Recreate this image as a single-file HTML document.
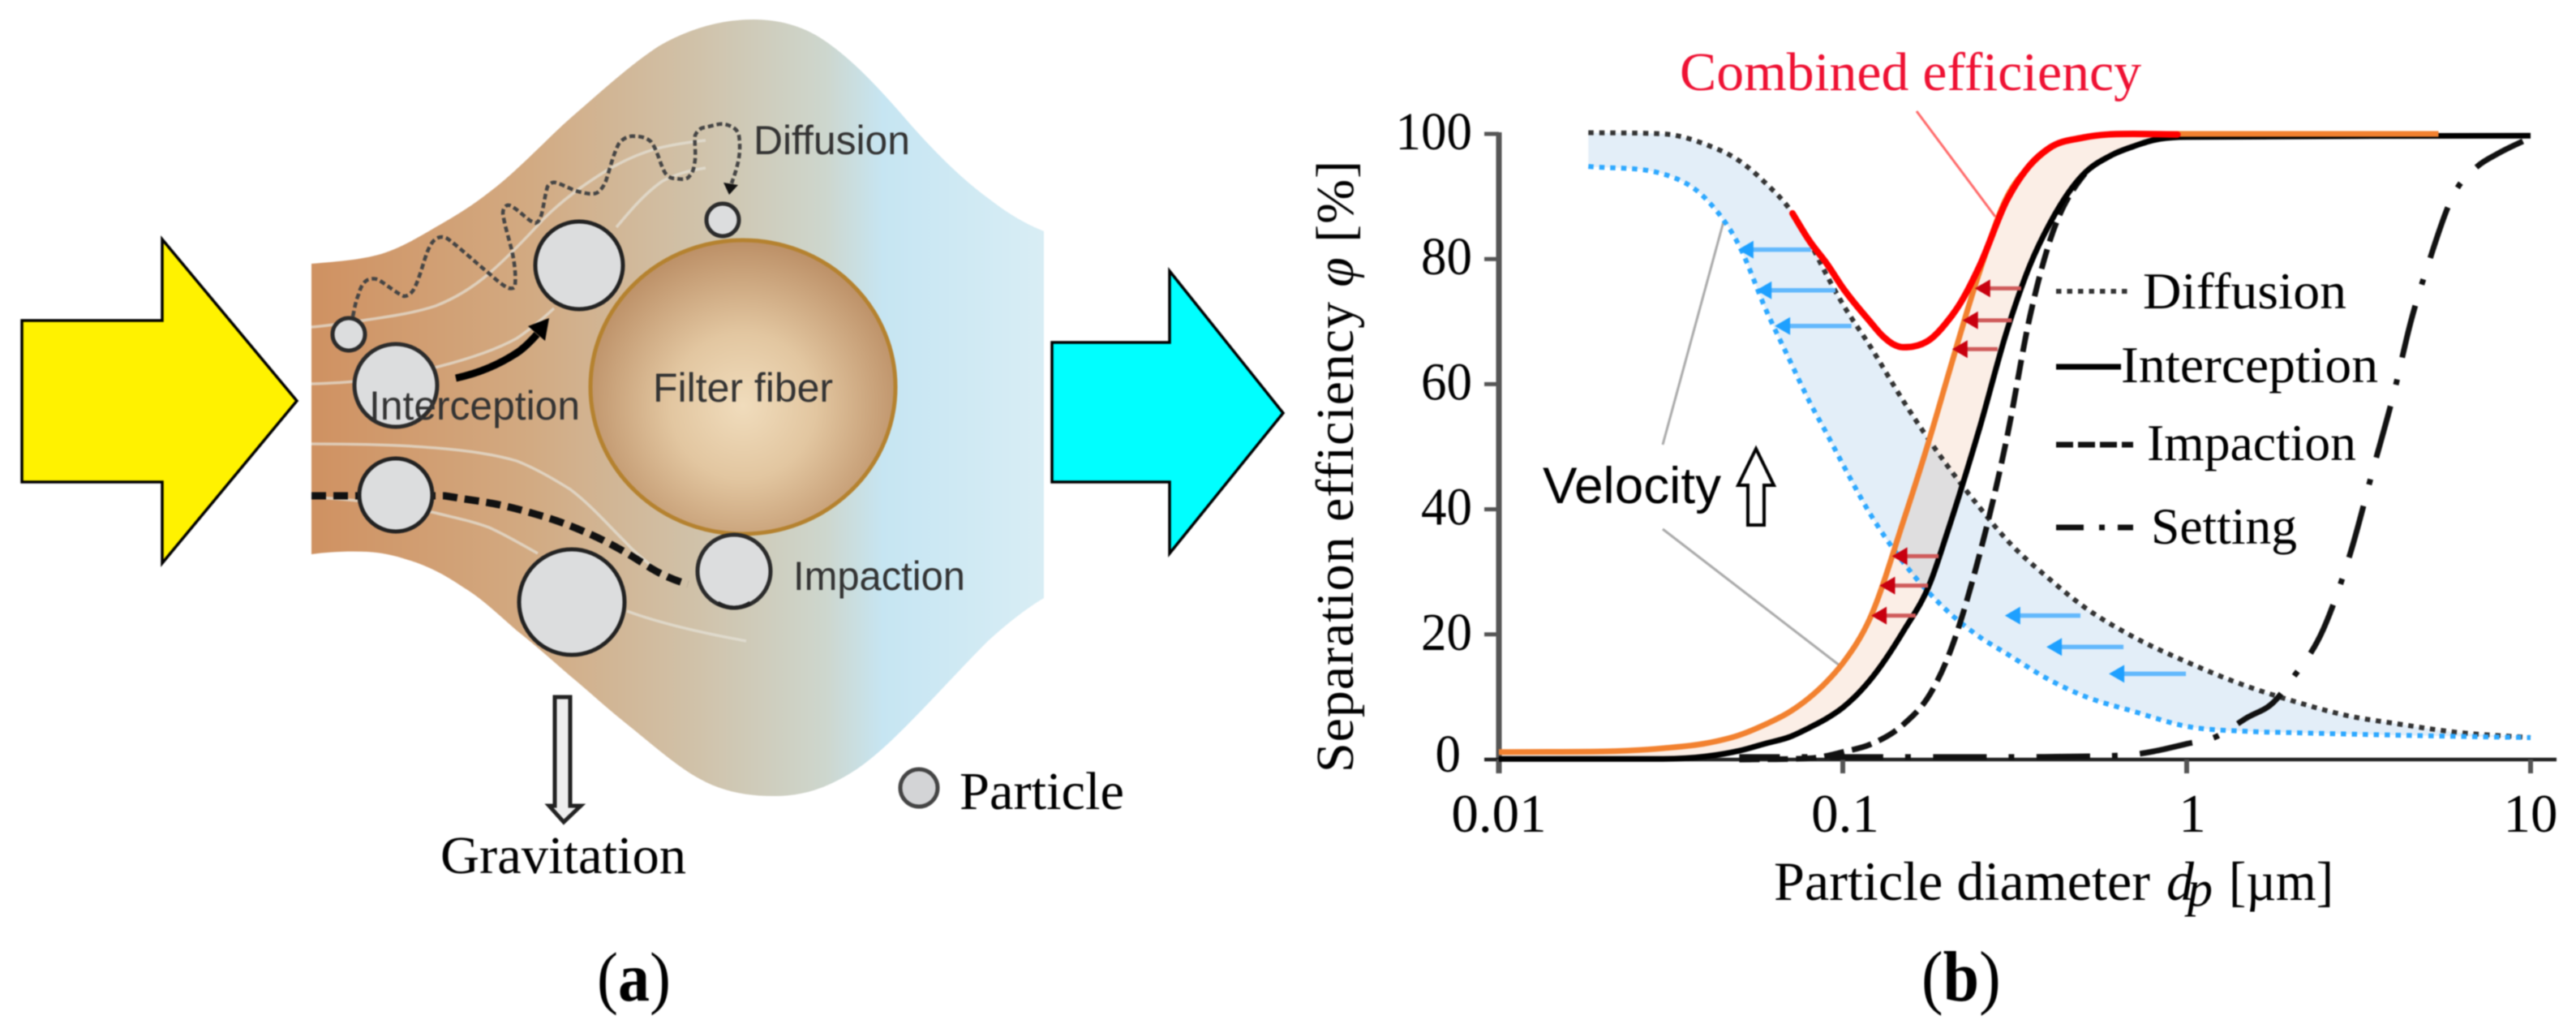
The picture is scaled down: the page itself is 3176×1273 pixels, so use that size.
<!DOCTYPE html>
<html lang="en">
<head>
<meta charset="utf-8">
<title>Particle filtration mechanisms and separation efficiency</title>
<style>
  html, body { margin: 0; padding: 0; background: #fff; }
  body { width: 3176px; height: 1273px; overflow: hidden; }
  svg { display: block; filter: blur(0.7px); }
  .serif { font-family: "Liberation Serif", serif; }
  .sans { font-family: "Liberation Sans", sans-serif; }
</style>
</head>
<body>
<svg id="figure" xmlns="http://www.w3.org/2000/svg" width="3176" height="1273" viewBox="0 0 3176 1273">
  <defs>
    <linearGradient id="flowGrad" gradientUnits="userSpaceOnUse" x1="384" y1="0" x2="1288" y2="0">
      <stop offset="0" stop-color="#cf9161"/>
      <stop offset="0.3" stop-color="#d2aa82"/>
      <stop offset="0.52" stop-color="#d0c1a8"/>
      <stop offset="0.7" stop-color="#cdd6cd"/>
      <stop offset="0.78" stop-color="#c6e5f2"/>
      <stop offset="1" stop-color="#d8edf4"/>
    </linearGradient>
    <radialGradient id="fiberGrad" gradientUnits="userSpaceOnUse" cx="916" cy="500" r="200">
      <stop offset="0" stop-color="#f0dcbc"/>
      <stop offset="0.45" stop-color="#e2c6a0"/>
      <stop offset="1" stop-color="#bd9168"/>
    </radialGradient>
  </defs>

  <g id="panel-a">
    <path fill="url(#flowGrad)" d="M384 325 C420 322 445 320 470 313 C495 305 515 293 537 280 C560 267 580 255 603 237 C628 218 648 198 670 177 C690 157 705 144 720 131 C750 105 780 78 812 57 C850 35 890 24 929 24 C960 24 990 32 1015 49 C1050 72 1085 110 1117 147 C1150 185 1185 220 1218 244 C1245 265 1265 276 1287 285 L1287 737 C1262 752 1240 770 1218 790 C1185 823 1150 862 1117 895 C1090 922 1065 945 1036 960 C1010 974 985 981 954 981 C920 981 890 975 863 960 C835 945 805 918 770 890 C745 870 725 851 703 833 C680 813 660 795 637 777 C615 758 595 738 570 723 C548 708 527 697 503 690 C485 684 470 681 453 680 C430 679 405 680 384 683 Z"/>
    <g fill="none" stroke="#e6e3d9" stroke-width="3.5" opacity="0.7">
      <path d="M384 403 C400 402 425 398 447 395 C480 390 510 386 537 377 C560 368 582 355 603 337 C628 315 650 292 670 270 C690 250 712 233 737 217 C760 202 785 190 810 183 C830 178 850 175 870 173"/>
      <path d="M384 473 C420 472 470 470 540 452 C575 443 610 432 637 417 C655 405 670 392 683 380 M760 280 C775 262 795 238 817 223 C835 214 850 210 870 207"/>
      <path d="M384 547 C430 547 490 548 537 552 C575 555 610 560 637 568 C660 577 682 590 703 603 C727 621 748 645 770 667 C782 680 792 688 803 697"/>
      <path d="M384 613 C420 614 480 620 537 632 C560 638 582 642 603 650 C625 660 645 672 663 682 M773 753 C805 765 838 773 870 780 C888 784 905 787 920 790"/>
    </g>
    <path fill="none" stroke="#444" stroke-width="4.5" stroke-dasharray="7 4" d="M435 390 C437 380 439 370 442 363 C445 352 449 347 453 345 C458 343 463 343 467 345 C478 352 490 362 498 365 C504 365 509 360 512 353 C518 340 522 323 527 310 C531 300 535 295 540 293 C545 291 549 292 553 295 C570 308 587 324 603 337 C612 345 620 352 627 355 C632 356 635 355 635 352 C636 340 635 328 632 313 C628 295 622 278 620 263 C620 256 624 252 628 253 C640 258 650 272 660 275 C664 274 666 270 668 263 C671 250 672 240 675 230 C678 226 681 224 685 225 C696 228 706 235 717 237 C725 239 733 240 737 237 C741 234 744 230 747 223 C752 208 756 190 763 177 C768 170 776 167 783 168 C791 168 798 170 803 175 C811 186 814 203 820 213 C824 219 829 220 833 220 C840 221 847 222 850 217 C855 212 856 205 857 197 C858 187 856 176 857 167 C860 160 865 157 870 157 C878 155 886 152 893 153 C903 155 910 160 911 167 C913 180 912 193 909 204 C907 212 904 220 902 226"/>
    <polygon fill="#111" points="892,225 910,228 899,240"/>
    <path fill="none" stroke="#111" stroke-width="9" stroke-dasharray="18 9" d="M384 611 L548 611 C555 612 561 613 567 614 C585 617 603 619 620 623 C638 627 655 632 672 637 C688 642 704 648 720 655 C737 662 754 671 770 680 C786 689 802 701 817 708 C827 713 838 717 848 720"/>
    <circle cx="430" cy="412" r="20" fill="#dcddde" stroke="#2b2b2b" stroke-width="5"/>
    <circle cx="488" cy="475" r="51" fill="#dcddde" stroke="#2b2b2b" stroke-width="5"/>
    <circle cx="714" cy="327" r="54" fill="#dcddde" stroke="#222" stroke-width="5"/>
    <circle cx="488" cy="610" r="45" fill="#dcddde" stroke="#222" stroke-width="5"/>
    <circle cx="705" cy="742" r="65" fill="#dcddde" stroke="#222" stroke-width="5"/>
    <ellipse cx="916" cy="477" rx="188" ry="181" fill="url(#fiberGrad)" stroke="#b5822f" stroke-width="5"/>
    <circle cx="891" cy="271" r="20" fill="#dcddde" stroke="#2b2b2b" stroke-width="5"/>
    <circle cx="905" cy="704" r="45" fill="#dcddde" stroke="#2b2b2b" stroke-width="5"/>
    <path d="M885 743 Q905 755 925 743" fill="none" stroke="#222" stroke-width="5"/>
    <path fill="none" stroke="#000" stroke-width="9" d="M562 466 C590 460 615 450 640 433 C648 427 655 420 662 412"/>
    <polygon fill="#000" points="677,392 672,420 651,402"/>
    <text class="sans" x="929" y="190" font-size="50" fill="#333" textLength="193" lengthAdjust="spacingAndGlyphs">Diffusion</text>
    <text class="sans" x="805" y="495" font-size="50" fill="#333" textLength="222" lengthAdjust="spacingAndGlyphs">Filter fiber</text>
    <text class="sans" x="455" y="517" font-size="50" fill="#333" textLength="260" lengthAdjust="spacingAndGlyphs">Interception</text>
    <text class="sans" x="978" y="727" font-size="50" fill="#333" textLength="212" lengthAdjust="spacingAndGlyphs">Impaction</text>
    <polygon points="27,395 200,395 200,295 366,494 200,694 200,594 27,594" fill="#fff200" stroke="#000" stroke-width="3.5"/>
    <polygon points="1297,422 1442,422 1442,334 1582,509 1442,682 1442,594 1297,594" fill="#00ffff" stroke="#000" stroke-width="3.5"/>
    <polygon points="684,859 703,859 703,993 716,993 695,1013 677,993 684,993" fill="#eeeeee" stroke="#222" stroke-width="5"/>
    <text class="serif" x="543" y="1076" font-size="66" fill="#000" textLength="303" lengthAdjust="spacingAndGlyphs">Gravitation</text>
    <circle cx="1133" cy="971" r="23" fill="#d3d4d6" stroke="#444" stroke-width="5"/>
    <text class="serif" x="1183" y="997" font-size="66" fill="#000" textLength="203" lengthAdjust="spacingAndGlyphs">Particle</text>
    <text class="serif" transform="translate(736 1233) scale(1 1.1)" font-size="78" fill="#000">(<tspan font-weight="bold">a</tspan>)</text>
  </g>

  <g id="panel-b">
    <g id="bands"></g>
    <g id="leaders">
      <line x1="2125" y1="273" x2="2050" y2="548" stroke="#aaa" stroke-width="3"/>
      <line x1="2050" y1="652" x2="2268" y2="820" stroke="#aaa" stroke-width="3"/>
      <line x1="2363" y1="137" x2="2460" y2="267" stroke="#ff6a6a" stroke-width="3"/>
    </g>
    <g id="axes"></g>
    <g id="series"></g>
    <g id="arrows"></g>

    <text class="serif" x="2071" y="111" font-size="67" fill="#ee1133" textLength="569" lengthAdjust="spacingAndGlyphs">Combined efficiency</text>
    <text class="sans" x="1902" y="620" font-size="63" fill="#000" textLength="220" lengthAdjust="spacingAndGlyphs">Velocity</text>
    <polygon points="2165,553 2187,598 2175,598 2175,647 2155,647 2155,598 2143,598" fill="#fff" stroke="#000" stroke-width="4"/>

    <g>
      <line x1="2535" y1="359" x2="2627" y2="359" stroke="#333" stroke-width="6" stroke-dasharray="6.5 7"/>
      <text class="serif" x="2642" y="380" font-size="64" textLength="251" lengthAdjust="spacingAndGlyphs">Diffusion</text>
      <line x1="2535" y1="452" x2="2615" y2="452" stroke="#000" stroke-width="7"/>
      <text class="serif" x="2615" y="471" font-size="64" textLength="317" lengthAdjust="spacingAndGlyphs">Interception</text>
      <line x1="2535" y1="548" x2="2630" y2="548" stroke="#111" stroke-width="7" stroke-dasharray="21 6"/>
      <text class="serif" x="2647" y="567" font-size="64" textLength="258" lengthAdjust="spacingAndGlyphs">Impaction</text>
      <line x1="2535" y1="650" x2="2569" y2="650" stroke="#111" stroke-width="7"/>
      <line x1="2588" y1="650" x2="2595" y2="650" stroke="#111" stroke-width="7"/>
      <line x1="2611" y1="650" x2="2630" y2="650" stroke="#111" stroke-width="7"/>
      <text class="serif" x="2652" y="670" font-size="64" textLength="180" lengthAdjust="spacingAndGlyphs">Setting</text>
    </g>

    <text class="serif" x="2187" y="1109" font-size="68" textLength="464" lengthAdjust="spacingAndGlyphs">Particle diameter</text>
    <text class="serif" x="2671" y="1109" font-size="68" font-style="italic">d</text>
    <text class="serif" x="2697" y="1116" font-size="62" font-style="italic">p</text>
    <text class="serif" x="2748" y="1109" font-size="68" textLength="129" lengthAdjust="spacingAndGlyphs">[µm]</text>
    <text class="serif" transform="translate(1668 952) rotate(-90)" x="0" y="0" font-size="66" textLength="754" lengthAdjust="spacing">Separation efficiency <tspan font-style="italic">φ</tspan> [%]</text>
    <text class="serif" transform="translate(2369 1233) scale(1 1.1)" font-size="80" fill="#000">(<tspan font-weight="bold">b</tspan>)</text>
  </g>
</svg>

<script>
// ---- axis tick labels ----
const xTicks = [0.01, 0.1, 1, 10];
const xTickLabels = ["0.01", "0.1", "1", "10"];
const yTicks = [0, 20, 40, 60, 80, 100];
const yTickLabels = ["0", "20", "40", "60", "80", "100"];

// ---- series: particle diameter (µm) and separation efficiency (%) ----
const diffusionD = [0.0182, 0.03, 0.04, 0.05, 0.06, 0.07, 0.08, 0.09, 0.1, 0.12, 0.15, 0.2, 0.25, 0.3, 0.4, 0.5, 0.7, 1, 1.5, 2, 3, 4, 6, 10];
const diffusionPhi = [100.2, 100, 98.3, 95.7, 92, 88, 82.8, 77.3, 72.8, 66.1, 57.3, 47.2, 40.3, 35.1, 28.8, 24.5, 19.6, 15.6, 11.7, 9.5, 6.9, 5.8, 4.4, 3.5];

const diffusionFastD = [0.0182, 0.03, 0.04, 0.05, 0.06, 0.07, 0.08, 0.09, 0.1, 0.12, 0.15, 0.2, 0.25, 0.3, 0.4, 0.5, 0.7, 1, 1.5, 2, 4, 10];
const diffusionFastPhi = [94.8, 93.6, 89.6, 82.1, 71.7, 63.9, 57.2, 52, 47.2, 39.3, 31.5, 23.9, 19.6, 16.9, 12.7, 10.2, 7.7, 5.3, 4.5, 4.3, 3.9, 3.5];

const interceptionD = [0.01, 0.03, 0.04, 0.05, 0.06, 0.07, 0.08, 0.09, 0.1, 0.12, 0.15, 0.18, 0.2, 0.25, 0.3, 0.35, 0.4, 0.5, 0.6, 0.7, 0.8, 1, 10];
const interceptionPhi = [0.1, 0.1, 0.5, 1.4, 2.6, 3.6, 5.1, 6.6, 8.3, 12.7, 20.5, 28.4, 35.8, 53, 68.5, 79, 85.7, 93.5, 96.5, 98, 99, 99.5, 99.7];

const interceptionFastD = [0.01, 0.02, 0.03, 0.04, 0.05, 0.06, 0.07, 0.08, 0.09, 0.1, 0.12, 0.15, 0.18, 0.2, 0.25, 0.3, 0.35, 0.4, 0.5, 0.7, 1, 5.4];
const interceptionFastPhi = [1.2, 1.3, 1.8, 2.6, 3.9, 5.7, 7.6, 9.9, 12.5, 15.4, 22.6, 38.1, 51.8, 60.4, 78, 89.9, 94.9, 97.7, 99.4, 100, 100, 100];

const impactionD = [0.05, 0.08, 0.09, 0.1, 0.12, 0.15, 0.18, 0.2, 0.25, 0.3, 0.35, 0.4, 0.5, 0.6, 0.7, 0.8, 1, 3];
const impactionPhi = [0, 0.2, 0.6, 1.2, 2.4, 5.6, 10.6, 15.7, 32.8, 51.4, 70.8, 82.9, 93.3, 96.5, 98, 99, 99.6, 99.9];

const settingD = [0.05, 0.3, 0.5, 0.6, 0.7, 0.8, 1, 1.2, 1.5, 1.8, 2, 2.5, 3, 3.5, 4, 4.5, 5, 6, 7, 8, 10];
const settingPhi = [0.4, 0.4, 0.5, 0.6, 0.8, 1.3, 2.5, 3.5, 6.7, 9.3, 12.5, 20.9, 33.2, 46.8, 58.5, 70.3, 78.6, 90.5, 94.8, 96.8, 99.4];

const combinedD = [0.0714, 0.08, 0.09, 0.1, 0.12, 0.13, 0.14, 0.15, 0.16, 0.18, 0.2, 0.22, 0.25, 0.3, 0.35, 0.4, 0.5, 0.7, 0.94];
const combinedPhi = [87.3, 82.9, 79.2, 75.4, 70, 67.8, 66.4, 65.9, 66, 67.2, 69.8, 73, 78.9, 89.4, 95, 97.8, 99.4, 100, 99.9];

// ---- shift arrows: efficiency level, tail diameter, head diameter ----
const blueArrowPhi = [81.5, 75, 69.3, 23, 18, 13.7];
const blueArrowTail = [0.0809, 0.0952, 0.106, 0.491, 0.655, 0.995];
const blueArrowHead = [0.0496, 0.056, 0.0634, 0.296, 0.391, 0.594];
const redArrowPhi = [75.3, 70.2, 65.6, 32.5, 27.8, 23];
const redArrowTail = [0.33, 0.31, 0.282, 0.19, 0.177, 0.163];
const redArrowHead = [0.242, 0.223, 0.208, 0.139, 0.128, 0.121];

// ---- axis functions ----
const X0 = 1848, DECADE = 424, Y0 = 936, PX_PER_PCT = 7.71;
function xScale(d) { return X0 + (Math.log10(d) + 2) * DECADE; }
function yScale(p) { return Y0 - p * PX_PER_PCT; }

const NS = "http://www.w3.org/2000/svg";
function make(tag, attrs, parent) {
  const el = document.createElementNS(NS, tag);
  for (const k in attrs) el.setAttribute(k, attrs[k]);
  parent.appendChild(el);
  return el;
}
function toPoints(ds, ps) { return ds.map((d, i) => [xScale(d), yScale(ps[i])]); }
function curve(pts) {
  const n = pts.length;
  const sl = [], hs = [];
  for (let i = 0; i < n - 1; i++) {
    hs.push(pts[i + 1][0] - pts[i][0]);
    sl.push((pts[i + 1][1] - pts[i][1]) / hs[i]);
  }
  const m = [sl[0]];
  for (let i = 1; i < n - 1; i++) {
    const a = sl[i - 1], b = sl[i];
    if (a * b <= 0) { m.push(0); continue; }
    const mid = (a * hs[i] + b * hs[i - 1]) / (hs[i - 1] + hs[i]);
    m.push(Math.sign(a) * Math.min(Math.abs(mid), 3 * Math.abs(a), 3 * Math.abs(b)));
  }
  m.push(sl[n - 2]);
  let s = "M" + pts[0][0].toFixed(1) + " " + pts[0][1].toFixed(1);
  for (let i = 0; i < n - 1; i++) {
    const h = hs[i];
    s += " C" + (pts[i][0] + h / 3).toFixed(1) + " " + (pts[i][1] + m[i] * h / 3).toFixed(1) +
         " " + (pts[i + 1][0] - h / 3).toFixed(1) + " " + (pts[i + 1][1] - m[i + 1] * h / 3).toFixed(1) +
         " " + pts[i + 1][0].toFixed(1) + " " + pts[i + 1][1].toFixed(1);
  }
  return s;
}
function band(upper, lower) {
  return curve(upper) + " L" + curve(lower.slice().reverse()).slice(1) + " Z";
}

const bands = document.getElementById("bands");
const axes = document.getElementById("axes");
const series = document.getElementById("series");
const arrows = document.getElementById("arrows");

// ---- filled bands ----
const blueBand = make("path", { d: band(toPoints(diffusionD, diffusionPhi), toPoints(diffusionFastD, diffusionFastPhi)), fill: "#e3eef8" }, bands);


const peachBand = make("path", { d: band(toPoints(interceptionFastD, interceptionFastPhi), toPoints(interceptionD, interceptionPhi)), fill: "#fbeee6", style: "mix-blend-mode:multiply" }, bands);



// ---- axes ----
const yAxisLine = make("line", { x1: X0, x2: X0, y1: yScale(100) - 2, y2: Y0 + 17, stroke: "#555", "stroke-width": 7 }, axes);


const xAxisLine = make("line", { x1: 1830, x2: 3152, y1: Y0, y2: Y0, stroke: "#222", "stroke-width": 4.5 }, axes);



yTicks.forEach((v, i) => {
  const y = yScale(v);
  if (v !== 0) {
    const t = make("line", { x1: 1830, x2: X0, y1: y, y2: y, stroke: "#555", "stroke-width": 5 }, axes);
    
    
  }
  const lab = make("text", { x: v === 0 ? 1801 : 1815, y: v === 0 ? y + 15 : y + 19, "text-anchor": "end", "font-size": 66, class: "serif", textLength: yTickLabels[i].length * 31.5, lengthAdjust: "spacingAndGlyphs" }, axes);
  
  
  lab.textContent = yTickLabels[i];
});
const xLabelNudge = [0, 3, 7, 0];
xTicks.forEach((v, i) => {
  const x = xScale(v);
  const t = make("line", { x1: x, x2: x, y1: Y0, y2: Y0 + 17, stroke: "#555", "stroke-width": 6 }, axes);
  
  
  const lab = make("text", { x: x + xLabelNudge[i], y: 1025, "text-anchor": "middle", "font-size": 67, class: "serif" }, axes);
  
  
  lab.textContent = xTickLabels[i];
});

// ---- curves ----
const diffusionLine = make("path", { d: curve(toPoints(diffusionD, diffusionPhi)), fill: "none", stroke: "#333", "stroke-width": 6, "stroke-dasharray": "6.5 7" }, series);


const diffusionFastLine = make("path", { d: curve(toPoints(diffusionFastD, diffusionFastPhi)), fill: "none", stroke: "#2da8ff", "stroke-width": 6, "stroke-dasharray": "6.5 7" }, series);


const settingLine = make("path", { d: curve(toPoints(settingD, settingPhi)), fill: "none", stroke: "#111", "stroke-width": 7, "stroke-dasharray": "66 27 7 27.5", "stroke-dashoffset": 16 }, series);


const impactionLine = make("path", { d: curve(toPoints(impactionD, impactionPhi)), fill: "none", stroke: "#111", "stroke-width": 7, "stroke-dasharray": "25 10" }, series);


const interceptionLine = make("path", { d: curve(toPoints(interceptionD, interceptionPhi)), fill: "none", stroke: "#000", "stroke-width": 7 }, series);


const interceptionFastLine = make("path", { d: curve(toPoints(interceptionFastD, interceptionFastPhi)), fill: "none", stroke: "#f2812f", "stroke-width": 7 }, series);



// ---- shift arrows ----
blueArrowPhi.forEach((p, i) => {
  const y = yScale(p), xt = xScale(blueArrowTail[i]), xh = xScale(blueArrowHead[i]);
  const l = make("line", { x1: xt, x2: xh + 10, y1: y, y2: y, stroke: "#62b8fc", "stroke-width": 5.5 }, arrows);
  
  
  const h = make("polygon", { points: xh + "," + y + " " + (xh + 19) + "," + (y - 11) + " " + (xh + 19) + "," + (y + 11), fill: "#1ea0ff" }, arrows);
  
  
});

// combined curve is drawn over the blue arrow tails, red arrows on top of it
const combinedLine = make("path", { d: curve(toPoints(combinedD, combinedPhi)), fill: "none", stroke: "#ff0000", "stroke-width": 8, "stroke-linecap": "round" }, series);


arrows.parentNode.appendChild(combinedLine);
const redGroup = arrows.cloneNode(false);
redGroup.setAttribute('id', 'red-arrows');


arrows.parentNode.appendChild(redGroup);
redArrowPhi.forEach((p, i) => {
  const y = yScale(p), xt = xScale(redArrowTail[i]), xh = xScale(redArrowHead[i]);
  const l = make("line", { x1: xt, x2: xh + 10, y1: y, y2: y, stroke: "#cf5a5a", "stroke-width": 5 }, redGroup);
  
  
  const h = make("polygon", { points: xh + "," + y + " " + (xh + 19) + "," + (y - 11) + " " + (xh + 19) + "," + (y + 11), fill: "#c8000f" }, redGroup);
  
  
});
</script>
</body>
</html>
